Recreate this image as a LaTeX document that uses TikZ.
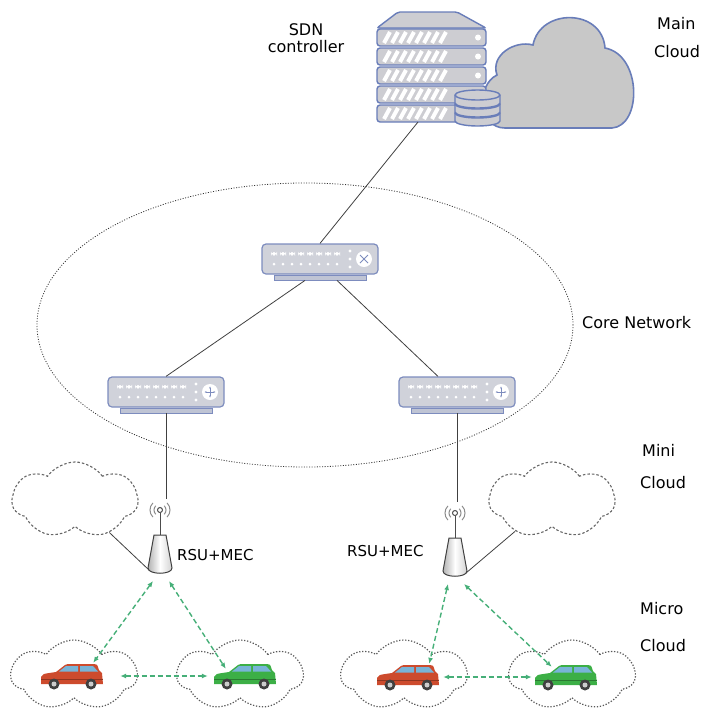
\documentclass[tikz,border=0pt]{standalone}
\usepackage{fontspec}
\setmainfont{DejaVu Sans}
\usetikzlibrary{arrows.meta,positioning,shapes.geometric,shapes.symbols}

\definecolor{srvblue}{RGB}{105,125,185}
\definecolor{srvgray}{RGB}{205,205,210}
\definecolor{cldgray}{RGB}{200,200,200}
\definecolor{swblue}{RGB}{125,140,190}
\definecolor{swgray}{RGB}{208,210,218}
\definecolor{linkgreen}{RGB}{70,175,120}
\definecolor{carred}{RGB}{205,75,45}
\definecolor{cargreen}{RGB}{60,175,70}
\definecolor{winblue}{RGB}{120,180,215}

% ports drawn inside a switch body
\newcommand{\swports}[1]{%
  \begin{scope}[shift={(path picture bounding box.center)}]
    \foreach \i in {0,...,7} {
      \fill[white] (-49+9*\i,-7) rectangle ++(6,3.5);
      \fill[white] (-46+9*\i,5) circle (1.5);
    }
    \foreach \j in {-8,0,8} \fill[white] (30,\j) circle (1.6);
    \fill[white] (44,0) circle (8);
    #1
  \end{scope}}
\newcommand{\swcross}{\draw[swblue,line width=.8pt] (40,-4) -- (48,4) (40,4) -- (48,-4);}
\newcommand{\swarrows}{\draw[swblue,line width=.7pt,{Stealth[length=2pt]}-{Stealth[length=2pt]}] (38.5,0) -- (49.5,0);
  \draw[swblue,line width=.7pt,{Stealth[length=2pt]}-{Stealth[length=2pt]}] (44,-5.5) -- (44,5.5);}

\tikzset{
  lbl/.style={font=\fontsize{16}{18}\selectfont, inner sep=0pt},
  wire/.style={line width=.8pt, black!75},
  link/.style={<->, >={Latex[length=6pt,width=5pt]}, linkgreen, line width=1.4pt,
               dash pattern=on 5pt off 3pt},
  srvpart/.style={draw=srvblue, fill=srvgray, line width=1.4pt},
  swbody/.style={draw=swblue, fill=swgray, rounded corners=4pt, line width=1.2pt,
                 minimum width=116pt, minimum height=30pt, inner sep=0pt},
  corebox/.style={swbody, path picture={\swports\swcross}},
  edgebox/.style={swbody, path picture={\swports\swarrows}},
  swbase/.style={draw=swblue, fill=swgray!80!swblue, minimum width=92pt,
                 minimum height=5pt, inner sep=0pt, line width=.8pt},
  zone/.style={ellipse, draw=black!80, line width=.8pt, dash pattern=on 1pt off 1.6pt,
               minimum width=536pt, minimum height=284pt},
  minicloud/.style={cloud, cloud puffs=7, cloud puff arc=110, cloud ignores aspect,
                    draw=black!60, line width=1.1pt, dash pattern=on 2.5pt off 2pt,
                    minimum width=126pt, minimum height=76pt},
  microcloud/.style={cloud, cloud puffs=7, cloud puff arc=110, cloud ignores aspect,
                     draw=black!65, line width=1.2pt, dash pattern=on 1.3pt off 1.7pt,
                     minimum width=126pt, minimum height=70pt},
  carbox/.style={minimum width=62pt, minimum height=26pt, inner sep=0pt},
  pics/rsu/.style={code={
    \draw[black!45, line width=1pt] (-45:6) arc[start angle=-45,end angle=45,radius=6]
      (-45:10) arc[start angle=-45,end angle=45,radius=10]
      (135:6) arc[start angle=135,end angle=225,radius=6]
      (135:10) arc[start angle=135,end angle=225,radius=10];
    \draw[black!70, line width=1pt] (0,2.5) -- (0,26);
    \draw[black!70, fill=white, line width=1pt] (0,0) circle (2.5);
    \draw[black!75, line width=1pt, left color=gray!60, right color=gray!35, middle color=white]
      (-6,25) -- (6,25) -- (12,58) .. controls (12,65) and (-12,65) .. (-12,58) -- cycle;
    \coordinate (-top) at (0,-11);
    \coordinate (-bl) at (-11,60);
    \coordinate (-br) at (11,60);
    \coordinate (-la) at (-7,71);
    \coordinate (-ra) at (9,71);
  }},
  pics/car/.style={code={
    \fill[#1] (-31,8) -- (-31,1) .. controls (-30,-2) .. (-16,-4) -- (-7,-11)
      .. controls (-5,-12) .. (0,-12) -- (22,-12) .. controls (25,-12) .. (27,-6)
      -- (30,-3) -- (31,8) -- cycle;
    \fill[winblue] (-13,-4.5) -- (-6,-10) -- (6,-10) -- (6,-4.5) -- cycle;
    \fill[winblue] (8,-4.5) -- (8,-10) -- (21,-10) -- (26,-4.5) -- cycle;
    \draw[#1!70!black] (-31,3) -- (31,3);
    \foreach \w in {-18,19} {
      \fill[black!75] (\w,8) circle (5.5);
      \fill[gray!40] (\w,8) circle (2.5);
    }
  }}
}

\begin{document}
\begin{tikzpicture}[x=1pt,y=-1pt]
\useasboundingbox (0,0) rectangle (701,713);

% main cloud behind the controller
\draw[draw=srvblue, fill=cldgray, line width=1.6pt]
  (505,128) .. controls (478,128) and (476,85) .. (497,75)
  .. controls (490,55) and (515,40) .. (533,45)
  .. controls (540,8) and (602,8) .. (605,48)
  .. controls (642,55) and (642,126) .. (612,128) -- cycle;

% controller rack
\draw[srvpart, rounded corners=2pt] (398,12) -- (457,12) -- (486,28) -- (377,28) -- cycle;
\foreach \y in {29,48,67,86,105} {
  \draw[srvpart, rounded corners=3pt] (377,\y) rectangle (486,\y+17);
  \foreach \s in {0,...,7}
    \draw[white, line width=4pt] (384+8*\s,\y+14) -- (390+8*\s,\y+3);
  \fill[white] (478,\y+8.5) circle (3);
}
% database
\foreach \t in {113,104,95} {
  \draw[srvpart] (455,\t) -- (455,\t+8) arc[start angle=180,end angle=0,x radius=22.5,y radius=5]
    -- (500,\t) arc[start angle=0,end angle=-180,x radius=22.5,y radius=5] -- cycle;
  \draw[srvblue, line width=1.4pt] (455,\t) arc[start angle=180,end angle=0,x radius=22.5,y radius=5];
}
\coordinate (srvport) at (418,122);

\node[lbl, align=center] (sdn) at (306,38) {SDN\\[-1pt]controller};
\node[lbl, anchor=west] (maintxt) at (657,24) {Main};
\node[lbl, anchor=west] (maincld) at (654,52) {Cloud};

% core network
\node[zone] (corenet) at (305,325) {};
\node[lbl, anchor=west] (coretxt) at (582,323) {Core Network};

\node[corebox] (core) at (320,259) {};
\node[swbase, below=0pt of core] (coreb) {};
\node[edgebox] (lsw) at (166,392) {};
\node[swbase, below=0pt of lsw] (lswb) {};
\node[edgebox] (rsw) at (457,392) {};
\node[swbase, below=0pt of rsw] (rswb) {};

% mini clouds and road side units
\node[minicloud] (miniL) at (75,500) {};
\node[minicloud] (miniR) at (552,500) {};
\pic (rsuL) at (160,510) {rsu};
\pic (rsuR) at (455,513) {rsu};
\node[lbl, font=\fontsize{15}{17}\selectfont, anchor=west] (rsuLtxt) at (177,555) {RSU+MEC};
\node[lbl, font=\fontsize{15}{17}\selectfont, anchor=west] (rsuRtxt) at (347,551) {RSU+MEC};
\node[lbl, anchor=west] (minitxt) at (642,450) {Mini};
\node[lbl, anchor=west] (minicld) at (640,483) {Cloud};

\draw[wire] (srvport) -- (core.north);
\draw[wire] ([xshift=-15pt]coreb.south) -- (lsw.north);
\draw[wire] ([xshift=17pt]coreb.south) -- ([xshift=-19pt]rsw.north);
\draw[wire] (lswb.south) -- (lswb.south |- rsuL-top);
\draw[wire] (rswb.south) -- (rswb.south |- rsuR-top);
\draw[wire] (rsuL-bl) -- (miniL);
\draw[wire] (rsuR-br) -- (miniR);

% micro clouds with vehicles
\node[microcloud] (microA) at (74,675) {};
\node[microcloud] (microB) at (240,675) {};
\node[microcloud] (microC) at (404,675) {};
\node[microcloud] (microD) at (572,675) {};
\node[carbox] (carA) at (72,676) {};
\node[carbox] (carB) at (245,676) {};
\node[carbox] (carC) at (408,677) {};
\node[carbox] (carD) at (566,677) {};
\pic at (carA) {car=carred};
\pic at (carB) {car=cargreen};
\pic at (carC) {car=carred};
\pic at (carD) {car=cargreen};
\node[lbl, anchor=west] (microtxt) at (640,609) {Micro};
\node[lbl, anchor=west] (microcld) at (640,646) {Cloud};

\draw[link] (rsuL-la) -- ([xshift=-10pt]carA.north east);
\draw[link] (rsuL-ra) -- ([xshift=12pt,yshift=-6pt]carB.north west);
\draw[link] ([xshift=17pt]carA.east) -- ([xshift=-6pt]carB.west);
\draw[link] (rsuR-la) -- ([xshift=-10pt]carC.north east);
\draw[link] (rsuR-ra) -- ([xshift=17pt,yshift=-3pt]carD.north west);
\draw[link] ([xshift=4pt]carC.east) -- ([xshift=-3pt]carD.west);
\end{tikzpicture}
\end{document}
